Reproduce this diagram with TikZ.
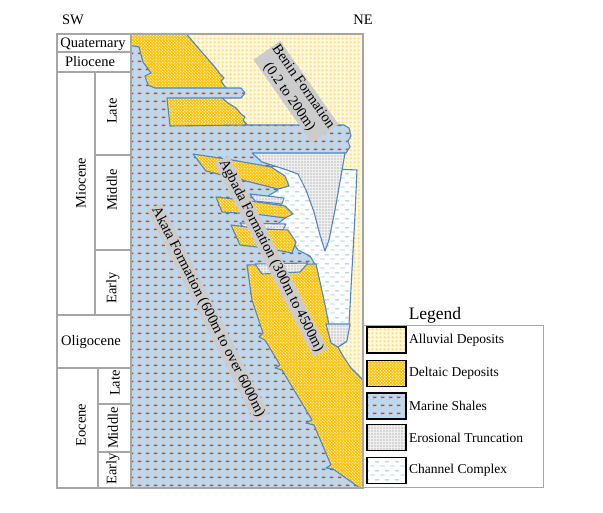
\documentclass[tikz,border=0pt]{standalone}
\usepackage{fontspec}
\setmainfont{Liberation Serif}
\usetikzlibrary{patterns.meta}

\definecolor{alluvialbg}{HTML}{FFF8DC}
\definecolor{alluvialdot}{HTML}{FFDA73}
\definecolor{deltaicbg}{HTML}{FFC000}
\definecolor{shalebg}{HTML}{BDD7EE}
\definecolor{shalemark}{HTML}{A5582E}
\definecolor{erosionbg}{HTML}{F0F0F0}
\definecolor{erosionline}{HTML}{C4C4C4}
\definecolor{channelmark}{HTML}{9DC3E6}
\definecolor{geoline}{HTML}{4F87C2}
\definecolor{framegray}{HTML}{A6A6A6}

\tikzdeclarepattern{name=alluvialdots, type=uncolored,
  bounding box={(0pt,0pt) and (3.6pt,3.6pt)}, tile size={(3.6pt,3.6pt)},
  code={\fill (1.8pt,1.8pt) circle (1.15pt);}}
\tikzdeclarepattern{name=deltaicdots, type=uncolored,
  bounding box={(0pt,0pt) and (3.4pt,3.4pt)}, tile size={(3.4pt,3.4pt)},
  code={\fill (0.85pt,0.85pt) circle (0.7pt); \fill (2.55pt,2.55pt) circle (0.7pt);}}
\tikzdeclarepattern{name=shaledash, type=uncolored,
  bounding box={(0pt,0pt) and (7.6pt,8pt)}, tile size={(7.6pt,8pt)},
  code={\fill (1pt,3.2pt) rectangle (4.6pt,4.8pt);}}
\tikzdeclarepattern{name=erosionhatch, type=uncolored,
  bounding box={(0pt,0pt) and (2.5pt,2.5pt)}, tile size={(2.5pt,2.5pt)},
  code={\draw[line width=0.3pt] (0pt,0pt) -- (2.5pt,2.5pt) (0pt,2.5pt) -- (2.5pt,0pt);}}
\tikzdeclarepattern{name=channeldash, type=uncolored,
  bounding box={(0pt,0pt) and (10pt,9pt)}, tile size={(10pt,9pt)},
  code={\draw[line width=1pt] (0.5pt,2.2pt) -- (5pt,2.2pt) (5.5pt,6.7pt) -- (9.8pt,6.7pt);}}

\tikzset{
  alluvial/.style={preaction={fill=alluvialbg}, pattern=alluvialdots, pattern color=alluvialdot},
  deltaic/.style={preaction={fill=deltaicbg}, pattern=deltaicdots, pattern color=white},
  shale/.style={preaction={fill=shalebg}, pattern=shaledash, pattern color=shalemark},
  erosion/.style={preaction={fill=erosionbg}, pattern=erosionhatch, pattern color=erosionline},
  channel/.style={preaction={fill=white}, pattern=channeldash, pattern color=channelmark},
  geo/.style={draw=geoline, line width=1.1pt, line join=round},
  fmlabel/.style={fill=gray!40, inner sep=1.5pt, align=center},
  colframe/.style={draw=framegray, line width=1.5pt},
}

\begin{document}
\begin{tikzpicture}[x=1pt,y=-1pt,
    every node/.style={font=\fontsize{14.5}{15.5}\selectfont, inner sep=1pt}]
    \useasboundingbox (0,0) rectangle (603,513);
    \node (sw) at (73,20) {SW};
    \node (ne) at (363,20) {NE};

    \begin{scope}
    \clip (131,34) rectangle (363,488);
    \path[alluvial] (131,34) rectangle (363,488);
    \path[deltaic,geo] (128,30) -- (183,30) -- (200,50) -- (214,66) -- (220,74) -- (224,78) -- (221,81)
        -- (226,88) -- (226,96) -- (128,96) -- cycle;
    \path[shale,geo] (128,45) -- (139,47) -- (143,62) -- (151,73) -- (145,76) -- (148,85) -- (155,88)
        -- (241,88) -- (245,93) -- (241,98) -- (222,98) -- (247,125) -- (344,125) -- (349,128)
        -- (351,136) -- (348,141) -- (350,147) -- (346,153) -- (300,156) -- (300,250) -- (318,262)
        -- (366,492) -- (128,492) -- cycle;
    \path[deltaic,geo] (167,98) -- (222,98) -- (228,103) -- (236,108) -- (241,114) -- (245,117)
        -- (243,120) -- (247,125) -- (170,126) -- cycle;
    \path[channel,geo] (262,166) -- (357,170) -- (355,215) -- (352,270) -- (349,325) -- (346,342)
        -- (338,347) -- (331,343) -- (327,325) -- (321,292) -- (316,266) -- (310,256) -- (298,250)
        -- (285,232) -- (275,226) -- (285,218) -- (280,202) -- (268,196) -- (278,190) -- (275,178)
        -- (262,172) -- cycle;
    \path[erosion,geo] (252,153) -- (345,153) -- (341,176) -- (335,210) -- (329,240) -- (325,251)
        -- (320,235) -- (314,212) -- (306,190) -- (298,174) -- (284,169) -- (262,162) -- cycle;
    \path[erosion,geo] (240,223) -- (286,224) -- (283,230) -- (244,228) -- cycle;
    \path[erosion,geo] (250,194) -- (284,198) -- (282,204) -- (255,201) -- cycle;
    \path[deltaic,geo] (193,154) -- (232,160) -- (271,167) -- (285,176) -- (289,186) -- (278,189)
        -- (250,182) -- (206,171) -- cycle;
    \path[deltaic,geo] (216,197) -- (250,201) -- (285,206) -- (293,214) -- (285,218) -- (255,214)
        -- (222,212) -- cycle;
    \path[deltaic,geo] (231,225) -- (262,229) -- (288,230) -- (296,242) -- (292,253) -- (265,248)
        -- (240,245) -- cycle;
    \path[deltaic,geo] (247,265) -- (316,264) -- (324,300) -- (330,330) -- (338,347) -- (343,356)
        -- (351,368) -- (364,381) -- (366,492) -- (360,488) -- (333,469) -- (326,468) -- (331,465)
        -- (314,425) -- (306,423) -- (312,420) -- (282,370) -- (275,368) -- (280,365) -- (265,340)
        -- (259,337) -- (263,333) -- (252,300) -- cycle;
    \path[erosion,geo] (326,324) -- (350,324) -- (347,341) -- (338,347) -- (331,343) -- cycle;
    \path[erosion,geo] (255,264) -- (308,263) -- (300,272) -- (262,274) -- cycle;
    \end{scope}

    \node[fmlabel, rotate=-55, font=\fontsize{14.5}{17}\selectfont] (benin) at (296,92)
        {Benin Formation\\(0.2 to 200m)};
    \node[fmlabel, rotate=-63] (agbada) at (271,256) {Agbada Formation (300m to 4500m)};
    \node[fmlabel, rotate=-63] (akata) at (208,312) {Akata Formation (600m to over 6000m)};

    \draw[colframe] (57,34) rectangle (363,488);
    \draw[colframe] (131,34) -- (131,488);
    \foreach \y in {52,72,315,368}
    \draw[colframe] (57,\y) -- (131,\y);
    \draw[colframe] (95,72) -- (95,315);
    \draw[colframe] (98,368) -- (98,488);
    \foreach \y in {155,250}
    \draw[colframe] (95,\y) -- (131,\y);
    \foreach \y in {404,452}
    \draw[colframe] (98,\y) -- (131,\y);

    \node (quaternary) at (93,44) {Quaternary};
    \node (pliocene) at (90,62) {Pliocene};
    \node[rotate=90] (miocene) at (81,183) {Miocene};
    \node[rotate=90] (miolate) at (112,111) {Late};
    \node[rotate=90] (miomiddle) at (112,190) {Middle};
    \node[rotate=90] (mioearly) at (113,288) {Early};
    \node (oligocene) at (91,342) {Oligocene};
    \node[rotate=90] (eocene) at (81,425) {Eocene};
    \node[rotate=90] (eolate) at (115,383) {Late};
    \node[rotate=90] (eomiddle) at (113,428) {Middle};
    \node[rotate=90] (eoearly) at (113,469) {Early};

    \node[font=\fontsize{17.5}{19}\selectfont] (legendtitle) at (435,315) {Legend};
    \draw[colframe, line width=1pt] (363,326) rectangle (543,487);
    \foreach \sty/\lab/\y [count=\i] in {alluvial/Alluvial Deposits/340, deltaic/Deltaic Deposits/373.5,
        shale/Marine Shales/406, erosion/Erosional Truncation/437.5, channel/Channel Complex/470.5} {
    \path[\sty, draw=black, line width=1.2pt] (367,\y-13) rectangle (406,\y+13);
    \node[anchor=west, font=\fontsize{13.5}{15}\selectfont] (legend\i) at (408,\y) {\lab};
    }
\end{tikzpicture}
\end{document}
